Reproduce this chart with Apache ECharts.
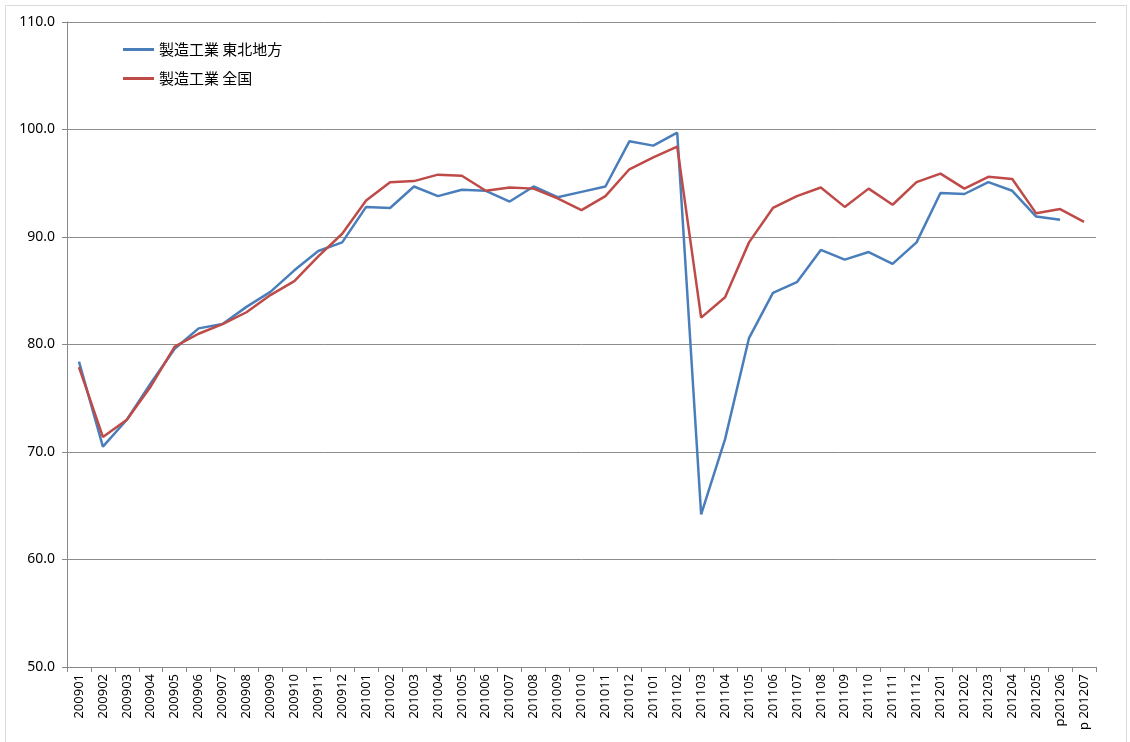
<!DOCTYPE html>
<html>
<head>
<meta charset="utf-8">
<script src="https://cdn.jsdelivr.net/npm/echarts@6/dist/echarts.min.js"></script>
<style>
	html, body { margin: 0; padding: 0; background: #fff; }
	#chart { width: 1130px; height: 742px; }
</style>
</head>
<body>
<div id="chart"></div>
<script>
// 月次カテゴリ
const months = [
	'200901', '200902', '200903', '200904', '200905', '200906', '200907', '200908', '200909', '200910', '200911', '200912',
	'201001', '201002', '201003', '201004', '201005', '201006', '201007', '201008', '201009', '201010', '201011', '201012',
	'201101', '201102', '201103', '201104', '201105', '201106', '201107', '201108', '201109', '201110', '201111', '201112',
	'201201', '201202', '201203', '201204', '201205', 'p201206', 'p 201207'
]

// 製造工業 東北地方 (p201207 はデータなし)
const tohoku = [
	78.4, 70.5, 73.0, 76.4, 79.6, 81.5, 81.9, 83.5, 84.9, 86.9, 88.7, 89.5,
	92.8, 92.7, 94.7, 93.8, 94.4, 94.3, 93.3, 94.7, 93.7, 94.2, 94.7, 98.9,
	98.5, 99.7, 64.2, 71.2, 80.6, 84.8, 85.8, 88.8, 87.9, 88.6, 87.5, 89.5,
	94.1, 94.0, 95.1, 94.3, 91.9, 91.6, null
]

// 製造工業 全国
const zenkoku = [
	77.9, 71.4, 73.0, 76.1, 79.8, 81.0, 81.9, 83.0, 84.6, 85.9, 88.2, 90.3,
	93.4, 95.1, 95.2, 95.8, 95.7, 94.3, 94.6, 94.5, 93.6, 92.5, 93.8, 96.3,
	97.4, 98.4, 82.5, 84.4, 89.5, 92.7, 93.8, 94.6, 92.8, 94.5, 93.0, 95.1,
	95.9, 94.5, 95.6, 95.4, 92.2, 92.6, 91.4
]

const yMin = 50
const yMax = 110
const yStep = 10

const chart = echarts.init(document.getElementById('chart'))
const options = {
	animation: false,
	textStyle: { fontFamily: '"Noto Sans", "Noto Sans CJK JP", sans-serif' },
	graphic: [
		{
			type: 'rect',
			shape: { x: 5.5, y: 5.5, width: 1121, height: 760 },
			style: { fill: 'none', stroke: '#d9d9d9', lineWidth: 1 },
			silent: true
		}
	],
	legend: {
		orient: 'vertical',
		left: 118,
		top: 37,
		itemWidth: 31,
		itemHeight: 3,
		itemGap: 14,
		icon: 'rect',
		textStyle: {
			color: '#000',
			fontSize: 15,
			fontFamily: '"Noto Sans CJK JP", sans-serif'
		},
		data: ['製造工業 東北地方', '製造工業 全国']
	},
	grid: {
		left: 67,
		right: 34,
		top: 22,
		bottom: 75,
		containLabel: false
	},
	xAxis: {
		type: 'category',
		data: months,
		boundaryGap: true,
		axisLine: { lineStyle: { color: '#888', width: 1 } },
		axisTick: { show: true, length: 5, inside: false, lineStyle: { color: '#888' } },
		axisLabel: {
			rotate: 90,
			interval: 0,
			color: '#000',
			fontSize: 13,
			margin: 7
		}
	},
	yAxis: {
		type: 'value',
		min: yMin,
		max: yMax,
		interval: yStep,
		axisLine: { show: true, lineStyle: { color: '#888' } },
		axisTick: { show: true, length: 5, lineStyle: { color: '#888' } },
		axisLabel: {
			color: '#000',
			fontSize: 14,
			margin: 12,
			formatter: v => v.toFixed(1)
		},
		splitLine: { show: true, lineStyle: { color: '#8c8c8c', width: 1 } }
	},
	series: [
		{
			name: '製造工業 東北地方',
			type: 'line',
			data: tohoku,
			symbol: 'none',
			connectNulls: false,
			lineStyle: { color: '#4a7ebb', width: 2.5 },
			itemStyle: { color: '#4a7ebb' }
		},
		{
			name: '製造工業 全国',
			type: 'line',
			data: zenkoku,
			symbol: 'none',
			lineStyle: { color: '#be4b48', width: 2.5 },
			itemStyle: { color: '#be4b48' }
		}
	]
}
chart.setOption(options)
</script>
</body>
</html>
